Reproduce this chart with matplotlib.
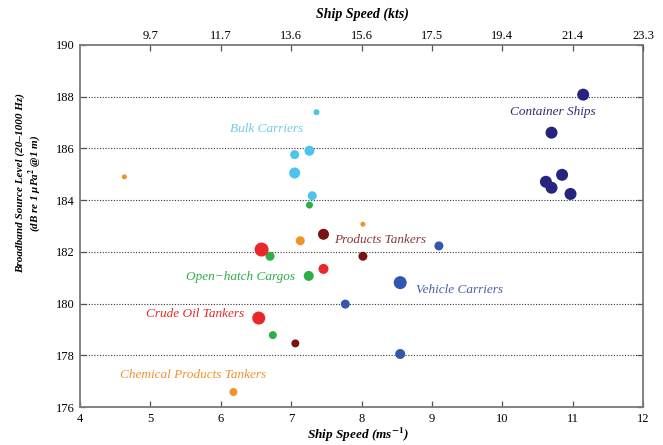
import matplotlib.pyplot as plt

# ship speed (m/s), source level (dB), marker diameter (px)
bulk_speed = [7.36, 7.05, 7.26, 7.05, 7.30]
bulk_level = [187.40, 185.76, 185.91, 185.05, 184.17]
bulk_size = [6, 9, 10, 11, 9]

openhatch_speed = [7.26, 6.70, 7.25, 6.74]
openhatch_level = [183.81, 181.83, 181.07, 178.78]
openhatch_size = [7, 9, 10, 8]

products_speed = [7.46, 8.02, 7.06]
products_level = [182.68, 181.83, 178.46]
products_size = [11, 9, 8]

crude_speed = [6.58, 7.46, 6.54]
crude_level = [182.09, 181.34, 179.44]
crude_size = [14, 10, 13]

chemical_speed = [4.63, 7.13, 8.02, 6.18]
chemical_level = [184.90, 182.43, 183.07, 176.58]
chemical_size = [5, 9, 5, 8]

vehicle_speed = [9.10, 8.55, 7.77, 8.55]
vehicle_level = [182.23, 180.81, 179.98, 178.05]
vehicle_size = [9, 13, 9, 10]

container_speed = [11.15, 10.70, 10.85, 10.62, 10.70, 10.97]
container_level = [188.08, 186.61, 184.98, 184.71, 184.48, 184.24]
container_size = [12, 12, 12, 12, 12, 12]

groups = [
    ('Bulk Carriers', bulk_speed, bulk_level, bulk_size, '#4DC4EC', (267, 129)),
    ('Open\u2212hatch Cargos', openhatch_speed, openhatch_level, openhatch_size, '#2DAE47', (241, 277)),
    ('Products Tankers', products_speed, products_level, products_size, '#7A1414', (380, 240)),
    ('Crude Oil Tankers', crude_speed, crude_level, crude_size, '#E8282A', (195, 314)),
    ('Chemical Products Tankers', chemical_speed, chemical_level, chemical_size, '#F0922C', (193, 375)),
    ('Vehicle Carriers', vehicle_speed, vehicle_level, vehicle_size, '#3356B0', (460, 290)),
    ('Container Ships', container_speed, container_level, container_size, '#25257F', (553, 112)),
]
label_colors = {'Products Tankers': '#8B3A3A', 'Bulk Carriers': '#6ECBEA',
                'Vehicle Carriers': '#4660B0', 'Container Ships': '#2D2D75'}

kts_ticks = [5, 6, 7, 8, 9, 10, 11, 12]
kts_labels = ['9.7', '11.7', '13.6', '15.6', '17.5', '19.4', '21.4', '23.3']

plt.rcParams['font.family'] = ['Liberation Serif', 'DejaVu Serif']
plt.rcParams['mathtext.fontset'] = 'stix'

W, H = 663, 445
fig = plt.figure(figsize=(W / 100, H / 100), dpi=100)
ax = fig.add_axes([80 / W, 1 - 407 / H, (643 - 80) / W, (407 - 45) / H])

for name, sx, sy, sz, col, pos in groups:
    ax.scatter(sx, sy, s=[(d * 0.72) ** 2 for d in sz], color=col, edgecolors='none', zorder=3)

ax.set_xlim(4, 12)
ax.set_ylim(176, 190)
ax.set_xticks(range(4, 13))
ax.set_yticks(range(176, 191, 2))
for yv in range(178, 190, 2):
    ax.axhline(yv, color='#333333', linestyle=(0, (1, 1.5)), linewidth=0.8, zorder=1)

for s in ax.spines.values():
    s.set_color('#7a7a7a')
    s.set_linewidth(1.3)
ax.tick_params(direction='in', length=4, width=0.9, color='#555555', labelsize=9, pad=4,
               right=True, top=False)

top = ax.twiny()
top.set_xlim(ax.get_xlim())
top.set_xticks(kts_ticks)
top.set_xticklabels(kts_labels)
top.tick_params(direction='in', length=4, width=0.9, color='#555555', labelsize=9, pad=2)
for s in top.spines.values():
    s.set_visible(False)

fig.text(362 / W, 1 - 14 / H, 'Ship Speed (kts)', fontsize=10, fontweight='bold', style='italic',
         ha='center', va='center')
fig.text(358 / W, 1 - 435 / H, 'Ship Speed (ms$^{\\mathbf{-1}}$)', fontsize=9.5, fontweight='bold',
         style='italic', ha='center', va='center')
fig.text(29 / W, 1 - 183 / H,
         'Broadband Source Level (20\u20131000 Hz)\n(dB re 1 \u03bcPa$^{\\mathbf{2}}$ @1 m)',
         fontsize=8, fontweight='bold', style='italic', rotation=90, ha='center', va='center',
         multialignment='center', linespacing=1.15)

for name, sx, sy, sz, col, pos in groups:
    fig.text(pos[0] / W, 1 - pos[1] / H, name, color=label_colors.get(name, col),
             fontsize=9.5, style='italic', ha='center', va='center')

fig.savefig('out.png', dpi=100)
